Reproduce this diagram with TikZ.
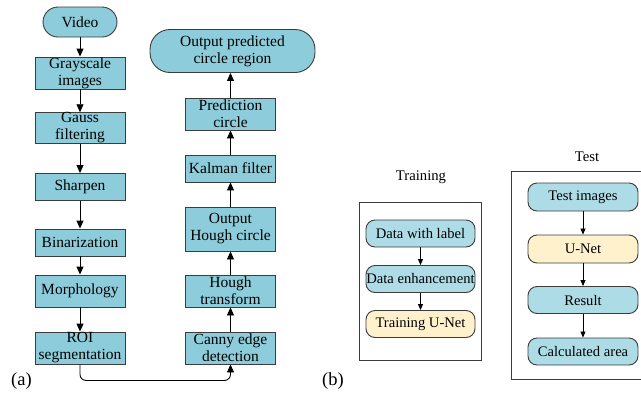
\documentclass[tikz,border=0pt]{standalone}
\usepackage{fontspec}
\setmainfont{Liberation Serif}
\usetikzlibrary{arrows.meta}
\definecolor{tealfill}{HTML}{8DCDDB}
\definecolor{bluefill}{HTML}{ADDCE6}
\definecolor{creamfill}{HTML}{FFF1CC}
\definecolor{edgegray}{HTML}{3C3C3C}
\begin{document}
\begin{tikzpicture}[x=1pt,y=-1pt,
	box/.style={draw=edgegray,line width=0.9pt,fill=tealfill,inner sep=0,align=center,minimum width=90pt,font=\fontsize{15.5}{17}\selectfont},
	term/.style={box,rounded corners=15pt},
	rbox/.style={draw=edgegray,line width=0.9pt,fill=bluefill,inner sep=0,rounded corners=9pt,minimum height=27pt,font=\fontsize{14.6}{16}\selectfont},
	arr/.style={line width=0.9pt,-{Triangle[length=8pt,width=7pt]}},
	sarr/.style={line width=0.8pt,-{Triangle[length=6pt,width=5pt]}}]
	\useasboundingbox (0,0) rectangle (641,392);
	\node[term,minimum width=74pt,minimum height=30pt] (a1) at (80,22) {Video};
	\node[box,minimum height=32pt] (a2) at (80,73) {Grayscale\\images};
	\node[box,minimum height=30pt] (a3) at (80,128) {Gauss\\filtering};
	\node[box,minimum height=27pt] (a4) at (80,187) {Sharpen};
	\node[box,minimum height=27pt] (a5) at (80,242.5) {Binarization};
	\node[box,minimum height=32pt] (a6) at (80,291) {Morphology};
	\node[box,minimum height=32pt] (a7) at (80,348) {ROI\\segmentation};
	\node[box,minimum height=32pt] (a8) at (230.5,348) {Canny edge\\detection};
	\node[box,minimum height=32pt] (a9) at (230.5,291) {Hough\\transform};
	\node[box,minimum height=44pt] (a10) at (230.5,229) {Output\\Hough circle};
	\node[box,minimum height=27pt] (a11) at (230.5,168.5) {Kalman filter};
	\node[box,minimum height=32pt] (a12) at (230.5,114) {Prediction\\circle};
	\node[term,minimum width=165pt,minimum height=43pt,rounded corners=20pt] (a13) at (232.5,51) {Output predicted\\circle region};
	\draw[arr] (a1) -- (a2);
	\draw[arr] (a2) -- (a3);
	\draw[arr] (a3) -- (a4);
	\draw[arr] (a4) -- (a5);
	\draw[arr] (a5) -- (a6);
	\draw[arr] (a6) -- (a7);
	\draw[arr,rounded corners=6pt] (a7.south) -- ++(0,16) -| (a8.south);
	\draw[arr] (a8) -- (a9);
	\draw[arr] (a9) -- (a10);
	\draw[arr] (a10) -- (a11);
	\draw[arr] (a11) -- (a12);
	\draw[arr] (a12.north) -- (a12.north |- a13.south);
	\node[font=\fontsize{18.5}{20}\selectfont] (la) at (21.5,381) {(a)};

	\node[font=\fontsize{14.7}{16}\selectfont] (t0) at (421,177) {Training};
	\draw[edgegray,line width=0.8pt] (359,202) rectangle (481,360);
	\node[rbox,minimum width=109pt] (t1) at (420.5,233.5) {Data with label};
	\node[rbox,minimum width=109pt] (t2) at (420.5,279) {Data enhancement};
	\node[rbox,minimum width=109pt,fill=creamfill] (t3) at (420.5,324) {Training U-Net};
	\draw[sarr] (t1) -- (t2);
	\draw[sarr] (t2) -- (t3);
	\node[font=\fontsize{18.5}{20}\selectfont] (lb) at (333,381) {(b)};

	\node[font=\fontsize{14.7}{16}\selectfont] (s0) at (587,157) {Test};
	\draw[edgegray,line width=0.8pt] (511,171) rectangle (662,379);
	\node[rbox,minimum width=110pt,minimum height=28pt] (s1) at (583,197) {Test images};
	\node[rbox,minimum width=110pt,minimum height=28pt,fill=creamfill] (s2) at (583,249) {U-Net};
	\node[rbox,minimum width=110pt,minimum height=27pt] (s3) at (583,300) {Result};
	\node[rbox,minimum width=110pt,minimum height=27pt] (s4) at (583,351.5) {Calculated area};
	\draw[sarr] (s1) -- (s2);
	\draw[sarr] (s2) -- (s3);
	\draw[sarr] (s3) -- (s4);
\end{tikzpicture}
\end{document}
